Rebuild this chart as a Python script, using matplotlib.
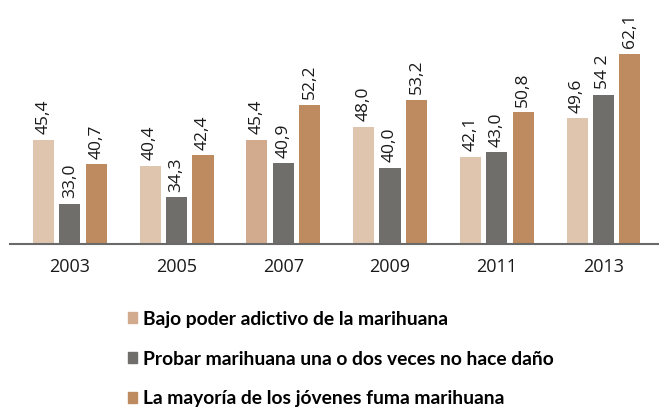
import matplotlib
matplotlib.use("Agg")
import matplotlib.pyplot as plt
import numpy as np
from matplotlib.patches import Patch

years = ["2003", "2005", "2007", "2009", "2011", "2013"]
bajo_poder = [45.4, 40.4, 45.4, 48.0, 42.1, 49.6]
probar = [33.0, 34.3, 40.9, 40.0, 43.0, 54.2]
mayoria = [40.7, 42.4, 52.2, 53.2, 50.8, 62.1]
labels_bajo = ["45,4", "40,4", "45,4", "48,0", "42,1", "49,6"]
labels_probar = ["33,0", "34,3", "40,9", "40,0", "43,0", "54 2"]
labels_mayoria = ["40,7", "42,4", "52,2", "53,2", "50,8", "62,1"]
series_names = ["Bajo poder adictivo de la marihuana",
                "Probar marihuana una o dos veces no hace daño",
                "La mayoría de los jóvenes fuma marihuana"]

c_light = "#e0c5ae"
c_light2 = "#d2ab8f"
c_gray = "#6f6e6b"
c_brown = "#be8a5f"

W, H = 659, 407
fig = plt.figure(figsize=(W / 100, H / 100), dpi=100)
ax = fig.add_axes([10 / W, 1 - 244 / H, (W - 10) / W, 244 / H])

x = np.arange(len(years))
bw = 0.197
step = 0.248
light_colors = [c_light, c_light, c_light2, c_light, c_light, c_light]
b1 = ax.bar(x - step, bajo_poder, bw, color=light_colors)
b2 = ax.bar(x, probar, bw, color=c_gray)
b3 = ax.bar(x + step, mayoria, bw, color=c_brown)

ax.set_ylim(25.2, 72.6)
ax.set_xlim(-0.56, 5.52)

fs = 12.5
for bars, labs in ((b1, labels_bajo), (b2, labels_probar), (b3, labels_mayoria)):
    for rect, lab in zip(bars, labs):
        ax.annotate(lab, (rect.get_x() + rect.get_width() / 2, rect.get_height()),
                    xytext=(0, 4), textcoords="offset points", rotation=90,
                    ha="center", va="bottom", fontsize=fs, family="Open Sans",
                    color="#1a1a1a")

for s in ["top", "right", "left"]:
    ax.spines[s].set_visible(False)
ax.spines["bottom"].set_color("#6a6a6a")
ax.spines["bottom"].set_linewidth(1.5)
ax.set_yticks([])
ax.set_xticks(x)
ax.set_xticklabels(years, fontsize=13, family="Open Sans", color="#1a1a1a")
ax.tick_params(axis="x", length=0, pad=10)

handles = [Patch(color=c_light2), Patch(color=c_gray), Patch(color=c_brown)]
fig.legend(handles, series_names, loc="upper left",
           bbox_to_anchor=(120 / W, 1 - 303 / H), frameon=False,
           handlelength=0.5, handleheight=0.5, handletextpad=0.3,
           labelspacing=1.18, borderaxespad=0,
           prop={"family": "Lato", "weight": "bold", "size": 13.9})

fig.savefig("out.png", dpi=100)
